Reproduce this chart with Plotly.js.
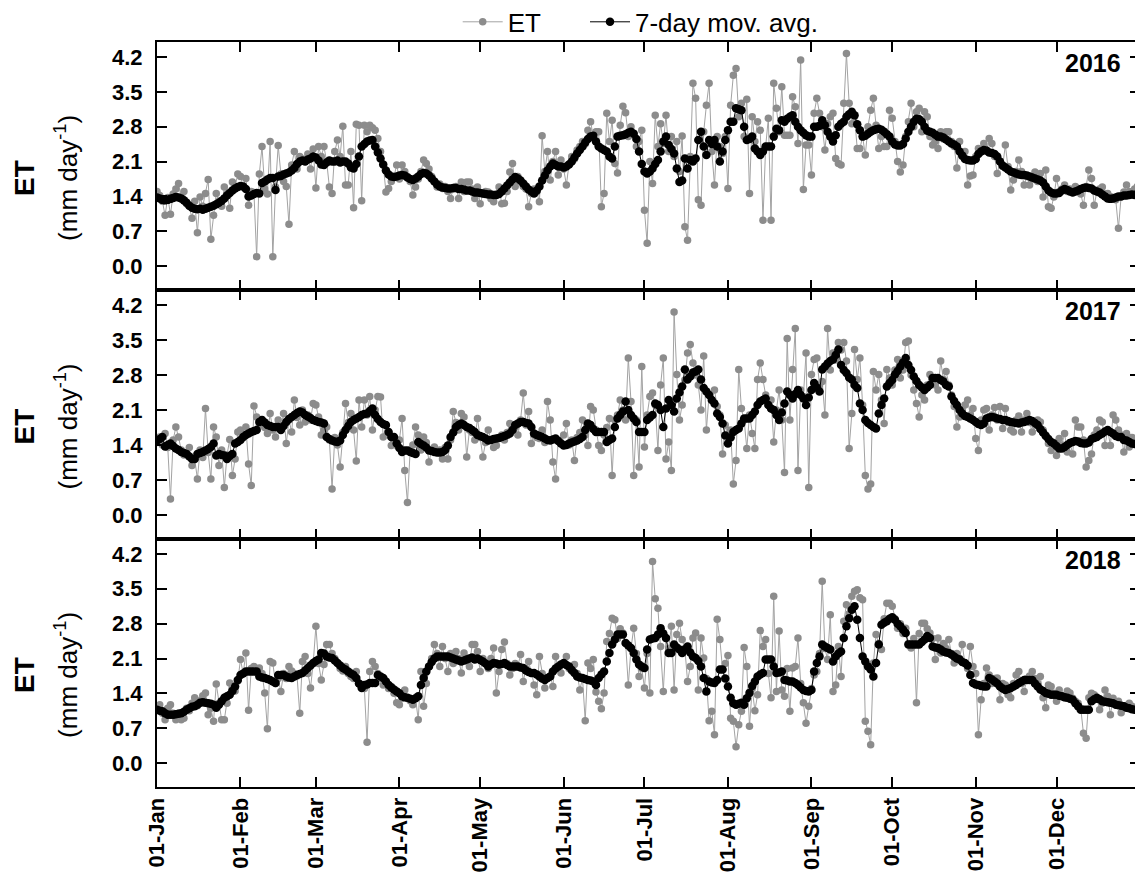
<!DOCTYPE html>
<html>
<head>
<meta charset="utf-8">
<script src="https://cdn.plot.ly/plotly-3.0.1.min.js"></script>
<style>
html,body{margin:0;padding:0;overflow:hidden;background:#fff;}
#chart{width:1150px;height:876px;}
</style>
</head>
<body>
<div id="chart"></div>
<script>
// ---------- DATA (daily values, 365 days) ----------
var years = ['2016', '2017', '2018'];
var monthTickStart = '2017-01-01';

var et2016 = [
1.5,1.42,1.3,1.02,1.38,1.04,1.45,1.55,1.66,1.35,1.5,1.25,1.2,0.96,1.3,0.67,1.39,1.2,1.46,1.74,0.54,1.02,1.46,1.3,1.2,1.59,1.45,1.16,1.69,1.6,1.85,
1.8,1.6,1.76,1.22,1.5,1.48,0.19,1.85,2.4,1.55,1.45,2.5,0.19,1.59,2.42,1.85,1.7,1.6,0.84,2.03,2.3,1.95,2.2,2.15,2.1,2.25,1.95,2.35,
1.57,2.4,2.2,2.4,2.1,1.59,1.46,2.3,2.53,2.2,2.81,1.63,1.63,2.3,1.17,2.85,2.83,1.31,2.83,2.7,2.83,2.78,2.73,2.56,2.3,2.04,1.49,1.56,1.7,1.8,2.03,
1.75,2.03,1.9,1.8,1.7,1.43,1.59,1.75,1.9,2.13,2.06,1.95,1.8,1.7,1.59,1.65,1.56,1.6,1.5,1.36,1.55,1.6,1.36,1.69,1.5,1.69,1.69,1.55,1.36,1.59,
1.25,1.45,1.5,1.49,1.35,1.29,1.45,1.59,1.25,1.26,1.5,1.89,2.06,1.6,1.8,1.7,1.6,1.55,1.19,1.46,1.55,1.49,1.29,2.62,1.9,2.3,1.73,2.1,2.3,1.83,2.13,
1.95,1.63,2.05,2.2,2.15,2.33,2.4,2.5,2.45,2.73,2.9,2.6,2.7,2.7,1.19,1.46,3.07,2.5,2.93,2.06,1.87,2.83,3.21,3.08,2.6,2.8,2.65,2.4,2.5,2.73,
1.12,0.46,2.1,1.66,3.03,2.4,2.86,2.46,3.03,2.3,2.6,2.2,2.5,1.9,2.61,0.79,0.52,2.2,3.67,3.37,1.33,1.22,2.7,3.23,3.67,2.3,1.63,2.6,2.4,2.26,2.6,
1.56,3.23,3.83,3.97,3.0,3.27,2.6,3.35,1.46,3.0,2.5,2.9,2.73,0.92,2.4,2.97,0.92,3.67,3.17,2.7,3.6,2.63,2.63,2.63,3.4,3.2,2.46,4.14,1.54,2.43,2.43,
1.83,3.07,3.37,3.07,2.8,2.33,2.86,3.0,3.07,2.16,2.06,2.03,3.27,4.27,3.27,2.86,3.0,2.36,2.36,2.6,2.23,2.8,3.13,3.37,2.83,2.36,2.6,2.4,2.4,3.13,
2.97,2.5,2.1,1.89,2.03,2.6,2.9,3.27,2.8,3.1,3.17,2.7,3.1,3.0,2.6,2.43,2.5,2.36,2.7,2.55,2.7,2.7,2.5,2.4,1.97,2.5,2.2,2.3,1.63,1.81,1.83,
2.2,2.36,2.3,2.46,2.3,2.56,2.46,2.2,1.86,2.1,2.0,2.43,2.0,1.53,1.73,1.9,2.13,1.9,1.63,1.8,1.63,1.75,1.89,1.7,1.86,1.39,1.93,1.19,1.16,1.39,
1.76,1.5,1.55,1.63,1.5,1.55,1.49,1.6,1.5,1.45,1.22,1.6,1.93,1.76,1.22,1.5,1.55,1.59,1.45,1.46,1.4,1.35,1.33,0.76,1.4,1.49,1.63,1.5,1.46,1.55,1.6];

var avg2016 = [
1.38,1.36,1.33,1.32,1.33,1.35,1.37,1.39,1.38,1.36,1.32,1.27,1.21,1.17,1.15,1.14,1.15,1.13,1.15,1.17,1.19,1.21,1.24,1.27,1.31,1.36,1.42,1.47,1.52,1.56,1.59,
1.61,1.6,1.55,1.4,1.42,1.45,1.47,1.46,1.67,1.7,1.74,1.77,1.77,1.53,1.8,1.81,1.84,1.86,1.88,1.92,1.97,2.05,2.1,2.12,2.1,2.14,2.16,2.2,
2.18,2.12,2.04,2.03,2.08,2.12,2.1,2.1,2.12,2.08,2.1,2.1,2.06,1.98,1.96,2.05,2.2,2.4,2.45,2.5,2.52,2.53,2.4,2.28,2.16,2.04,1.92,1.84,1.8,1.79,1.8,
1.82,1.83,1.82,1.78,1.75,1.73,1.76,1.8,1.85,1.87,1.86,1.82,1.76,1.7,1.64,1.6,1.58,1.57,1.56,1.56,1.57,1.57,1.55,1.55,1.54,1.52,1.52,1.5,1.48,1.48,
1.47,1.46,1.45,1.44,1.44,1.43,1.43,1.45,1.5,1.56,1.62,1.68,1.74,1.79,1.76,1.72,1.66,1.6,1.54,1.5,1.46,1.52,1.6,1.72,1.82,1.92,2.0,2.06,2.03,2.0,2.0,
1.98,2.0,2.04,2.1,2.18,2.26,2.33,2.4,2.48,2.55,2.6,2.62,2.5,2.4,2.36,2.33,2.3,2.2,2.16,2.4,2.6,2.62,2.63,2.65,2.68,2.7,2.66,2.55,2.3,2.05,
1.9,1.86,1.9,1.96,2.05,2.13,2.3,2.5,2.6,2.43,2.35,2.26,1.96,1.69,1.72,2.16,1.96,2.13,2.1,2.16,2.53,2.7,2.4,2.23,2.53,2.45,2.53,2.4,2.1,2.3,2.53,
2.73,2.9,2.9,3.17,3.15,3.13,2.8,2.53,2.55,2.6,2.36,2.3,2.23,2.3,2.4,2.4,2.4,2.6,2.76,2.73,2.93,2.9,2.96,3.0,3.03,2.9,2.8,2.73,2.68,2.63,2.6,
2.6,2.8,2.8,2.82,2.93,2.83,2.7,2.6,2.5,2.63,2.8,2.86,2.9,3.0,3.05,3.1,3.03,2.85,2.73,2.6,2.62,2.66,2.7,2.73,2.75,2.76,2.74,2.7,2.65,2.6,
2.5,2.44,2.42,2.42,2.45,2.56,2.7,2.8,2.9,2.96,2.95,2.9,2.8,2.72,2.7,2.68,2.64,2.6,2.6,2.58,2.54,2.5,2.46,2.44,2.4,2.3,2.22,2.15,2.13,2.12,2.12,
2.15,2.25,2.3,2.33,2.32,2.28,2.27,2.25,2.2,2.1,2.02,1.98,1.94,1.9,1.88,1.86,1.84,1.83,1.83,1.82,1.8,1.78,1.76,1.74,1.72,1.68,1.6,1.52,1.48,1.46,
1.46,1.47,1.52,1.55,1.53,1.5,1.48,1.5,1.52,1.55,1.57,1.58,1.57,1.56,1.52,1.5,1.48,1.44,1.4,1.36,1.35,1.36,1.38,1.4,1.4,1.42,1.42,1.43,1.44,1.43,1.45];

var et2017 = [
1.45,1.56,1.4,1.63,1.35,0.32,1.5,1.76,1.56,1.3,1.2,1.22,1.35,0.99,1.12,0.72,1.3,1.15,2.13,1.25,0.72,1.76,1.56,0.99,1.3,0.55,1.2,1.51,0.79,1.12,1.66,
1.7,1.55,1.76,1.02,0.59,2.18,1.96,1.8,1.9,1.75,1.63,2.03,1.7,1.56,1.9,1.75,2.03,1.43,1.9,1.66,2.3,1.95,1.8,2.1,1.86,2.0,1.9,2.23,
2.2,1.96,1.6,1.7,1.76,1.5,0.52,1.55,1.4,0.96,1.65,2.23,1.85,2.03,1.7,1.08,2.3,1.76,2.3,2.0,2.37,1.7,2.1,2.37,2.36,1.56,1.8,1.65,1.39,1.5,1.39,
1.5,1.93,0.89,0.25,1.3,1.4,1.76,1.6,1.3,1.56,1.45,1.06,1.3,1.36,1.25,1.3,1.12,1.35,1.12,1.5,2.07,1.85,1.7,2.03,1.96,1.16,1.7,1.65,1.5,1.93,
1.55,1.16,1.45,1.7,1.5,1.35,1.39,1.55,1.6,1.5,1.65,1.83,1.7,1.75,1.6,1.9,2.44,1.8,2.07,1.43,1.6,1.55,1.53,1.7,1.45,2.27,1.9,1.06,0.72,1.5,1.45,
1.6,1.83,1.4,1.5,1.09,1.55,1.65,1.9,1.6,1.39,2.17,2.1,1.7,1.39,1.29,1.6,1.75,1.93,0.79,1.9,2.0,2.3,2.1,1.9,3.14,2.27,0.79,1.9,0.96,2.97,
1.36,2.0,2.37,2.44,2.2,1.29,2.6,3.14,1.12,1.46,0.89,4.06,2.81,1.9,2.2,2.7,3.24,3.41,3.04,2.8,2.6,2.1,3.18,1.7,2.4,2.3,2.5,2.17,2.0,1.22,1.8,
1.6,1.7,0.62,1.09,2.91,2.13,1.9,1.33,2.0,1.63,1.33,2.71,3.04,2.71,2.4,2.2,2.3,1.46,2.1,2.5,1.9,0.85,3.53,1.9,2.91,3.73,0.89,2.5,2.37,3.24,0.55,
2.81,3.11,3.14,2.6,2.67,2.0,3.73,2.9,3.24,3.1,3.45,3.3,3.45,3.08,1.33,2.03,3.31,2.71,3.14,2.2,0.79,0.52,0.62,2.87,2.5,2.81,2.3,1.83,2.91,2.74,
2.6,2.9,3.11,2.74,2.9,3.45,3.48,2.8,2.5,2.23,1.96,2.4,2.3,2.6,2.81,2.7,2.6,2.5,3.08,2.71,2.87,2.6,2.4,2.17,1.76,1.96,2.1,2.2,2.3,2.0,2.13,
1.53,1.29,1.9,2.1,2.13,1.7,2.0,2.15,1.9,2.17,1.73,2.13,1.85,1.7,1.66,1.9,1.98,1.66,1.9,2.03,1.85,1.66,1.8,1.9,1.86,1.7,1.6,1.43,1.29,1.45,
1.19,1.53,1.4,1.63,1.26,1.45,1.22,1.9,1.76,1.76,1.5,0.96,1.09,1.22,1.6,1.7,1.9,1.86,1.39,1.7,1.39,2.0,1.9,1.7,1.6,1.26,1.63,1.36,1.55,1.53,1.4];

var avg2017 = [
1.49,1.52,1.56,1.37,1.4,1.43,1.38,1.33,1.3,1.26,1.24,1.22,1.17,1.12,1.12,1.22,1.24,1.26,1.29,1.32,1.36,1.43,1.19,1.22,1.2,1.19,1.12,1.18,1.22,1.43,1.46,
1.5,1.56,1.6,1.63,1.66,1.68,1.7,1.86,1.9,1.85,1.8,1.78,1.76,1.76,1.76,1.7,1.78,1.86,1.92,1.96,2.0,2.04,2.07,2.05,2.0,1.97,1.94,1.9,
1.88,1.86,1.85,1.83,1.56,1.52,1.49,1.47,1.46,1.49,1.6,1.7,1.78,1.86,1.9,1.93,1.96,2.0,2.02,2.03,2.08,2.13,2.0,1.92,1.86,1.82,1.8,1.66,1.56,1.56,1.43,
1.34,1.26,1.29,1.29,1.26,1.24,1.22,1.46,1.42,1.39,1.35,1.29,1.28,1.26,1.25,1.25,1.26,1.3,1.39,1.56,1.65,1.76,1.8,1.83,1.8,1.76,1.74,1.7,1.66,1.6,
1.58,1.56,1.53,1.49,1.5,1.52,1.53,1.54,1.56,1.58,1.6,1.63,1.7,1.8,1.83,1.86,1.86,1.84,1.83,1.76,1.63,1.6,1.58,1.56,1.53,1.5,1.49,1.51,1.53,1.48,1.43,
1.39,1.4,1.43,1.45,1.47,1.49,1.52,1.56,1.7,1.83,1.8,1.72,1.66,1.66,1.66,1.66,1.46,1.5,1.53,1.76,1.93,2.0,2.07,2.27,2.1,2.0,1.93,1.86,1.66,1.66,
1.66,1.9,1.95,2.0,2.23,2.2,2.1,1.76,2.13,2.3,2.2,2.07,2.33,2.45,2.57,2.91,2.71,2.77,2.85,2.87,2.91,2.71,2.54,2.47,2.4,2.3,2.23,2.03,1.96,1.83,1.59,
1.43,1.55,1.66,1.7,1.73,1.83,1.93,1.93,1.93,2.0,2.07,2.2,2.27,2.3,2.33,2.2,2.13,2.1,2.0,1.9,2.05,2.23,2.47,2.4,2.33,2.42,2.5,2.4,2.33,2.2,2.35,
2.5,2.64,2.55,2.47,2.91,2.97,3.03,3.08,3.11,3.2,3.31,3.0,2.9,2.84,2.75,2.71,2.6,2.54,2.23,2.1,1.9,1.84,1.8,1.76,1.73,2.03,2.2,2.33,2.57,2.64,
2.7,2.81,2.88,2.97,3.05,3.14,3.0,2.9,2.77,2.68,2.6,2.55,2.5,2.55,2.6,2.74,2.74,2.74,2.7,2.67,2.6,2.57,2.37,2.28,2.2,2.1,2.03,1.98,1.96,1.93,1.9,
1.86,1.82,1.8,1.83,1.93,1.95,1.96,1.95,1.93,1.92,1.9,1.9,1.88,1.86,1.85,1.84,1.83,1.85,1.86,1.88,1.9,1.88,1.84,1.8,1.72,1.65,1.58,1.52,1.46,1.43,
1.38,1.33,1.33,1.36,1.4,1.44,1.46,1.48,1.47,1.44,1.43,1.43,1.45,1.52,1.54,1.56,1.6,1.63,1.67,1.7,1.66,1.63,1.58,1.56,1.56,1.5,1.49,1.46,1.43,1.42,1.42];

var et2018 = [
1.15,1.17,1.0,0.87,1.1,1.17,1.0,0.87,1.0,0.87,0.9,1.1,1.05,1.2,1.31,1.15,1.25,1.35,1.41,0.97,1.1,0.84,1.59,1.2,0.87,0.87,1.2,1.61,1.5,1.45,1.65,
2.08,1.8,2.21,1.06,1.9,1.94,1.85,1.91,1.8,1.41,0.69,2.04,2.01,1.6,1.7,1.44,1.8,1.7,1.94,1.85,1.8,1.75,1.0,2.04,2.14,1.8,1.51,2.0,
2.75,2.0,1.67,1.98,2.38,2.38,2.2,2.1,2.01,1.9,1.85,1.94,1.8,1.74,1.7,1.84,1.6,1.55,1.5,0.42,1.84,2.04,1.94,1.8,1.7,1.57,1.6,1.5,1.54,1.4,1.21,
1.17,1.3,1.47,1.3,1.25,1.17,1.3,0.87,1.84,1.14,1.6,1.94,2.1,2.38,2.2,1.94,2.34,2.1,1.84,2.2,2.0,2.24,2.1,1.81,2.21,2.05,1.94,2.38,2.38,2.24,
1.84,2.1,2.0,1.9,2.1,2.31,1.41,1.84,2.28,2.43,2.0,1.77,1.9,2.0,1.95,2.18,1.64,1.9,2.04,1.8,1.57,1.37,2.14,1.8,1.51,1.7,1.75,1.54,2.14,1.9,1.81,
2.0,2.14,1.9,1.85,1.98,1.8,1.47,1.7,0.85,2.01,1.9,2.08,1.43,1.24,1.09,1.41,2.44,2.6,2.91,2.88,2.5,2.7,2.61,2.4,1.57,2.3,2.71,2.2,1.74,1.9,
1.51,2.2,1.41,4.05,3.3,3.11,2.34,1.44,2.5,2.3,2.75,1.47,2.58,2.81,2.48,2.3,1.64,1.94,2.51,2.61,1.47,2.51,2.11,1.7,0.85,1.04,0.57,2.89,2.48,1.88,2.0,
2.16,0.9,0.84,0.33,0.77,1.04,2.32,1.94,0.74,1.5,1.05,1.37,2.66,2.34,2.48,1.8,1.31,3.35,1.44,2.65,1.47,1.34,1.9,1.04,1.91,1.94,2.51,1.6,1.21,0.8,1.14,
1.5,1.77,1.84,2.2,3.65,2.3,2.08,2.98,1.44,1.57,2.34,1.74,2.85,3.18,3.0,3.35,3.45,3.48,3.32,3.28,0.84,0.64,0.37,2.01,2.58,2.4,2.28,2.9,3.21,3.21,
3.15,2.9,2.71,2.8,2.6,2.71,2.4,2.31,2.5,1.21,2.6,2.81,2.81,2.7,2.61,2.5,2.08,2.51,2.21,2.4,2.3,2.48,2.2,2.01,2.2,2.1,2.38,2.0,1.9,2.34,1.94,
1.8,0.57,1.27,1.6,1.91,1.77,1.6,1.7,1.71,1.27,1.6,1.57,1.37,1.31,1.6,1.77,1.84,1.6,1.44,1.7,1.75,1.84,1.7,1.6,1.74,1.31,1.11,1.57,1.54,1.4,
1.24,1.47,1.35,1.31,1.45,1.41,1.3,1.24,1.2,1.1,0.6,0.5,1.31,1.4,1.37,1.3,1.07,1.2,1.47,1.34,0.97,1.3,1.2,1.24,1.01,1.15,1.11,1.2,1.14,1.1,1.05];

var avg2018 = [
1.07,1.05,1.04,1.0,0.97,0.97,0.97,0.98,0.99,1.0,1.03,1.07,1.1,1.13,1.14,1.17,1.21,1.22,1.21,1.2,1.19,1.17,1.11,1.17,1.24,1.31,1.34,1.37,1.45,1.54,1.67,
1.77,1.8,1.84,1.84,1.84,1.84,1.84,1.74,1.72,1.71,1.69,1.67,1.64,1.61,1.77,1.77,1.77,1.74,1.72,1.71,1.74,1.77,1.79,1.81,1.86,1.91,1.96,2.01,
2.05,2.08,2.21,2.2,2.14,2.12,2.11,2.06,2.01,1.96,1.91,1.88,1.84,1.8,1.77,1.71,1.6,1.51,1.57,1.58,1.61,1.61,1.61,1.77,1.74,1.71,1.64,1.57,1.52,1.48,1.44,
1.4,1.34,1.32,1.31,1.29,1.27,1.3,1.34,1.57,1.71,1.84,1.94,2.03,2.1,2.14,2.14,2.14,2.14,2.14,2.12,2.1,2.08,2.06,2.04,2.06,2.08,2.1,2.12,2.08,2.1,
2.07,2.04,2.0,1.94,1.98,2.01,2.0,1.98,1.99,2.01,1.97,1.94,1.94,1.94,1.94,1.92,1.91,1.86,1.83,1.81,1.81,1.78,1.74,1.7,1.67,1.71,1.74,1.84,1.9,1.94,1.98,
2.01,1.97,1.94,1.87,1.81,1.74,1.72,1.71,1.69,1.67,1.66,1.64,1.57,1.71,1.78,1.84,2.04,2.21,2.38,2.48,2.58,2.58,2.58,2.41,2.36,2.31,2.21,2.08,1.98,1.94,
1.91,2.28,2.48,2.5,2.51,2.58,2.71,2.6,2.51,2.21,2.21,2.38,2.32,2.28,2.21,2.28,2.34,2.22,2.14,2.11,2.05,1.94,1.71,1.44,1.64,1.62,1.61,1.67,1.88,1.88,1.7,
1.54,1.31,1.2,1.17,1.19,1.21,1.17,1.3,1.41,1.55,1.64,1.74,1.78,1.81,2.08,2.08,2.08,1.94,1.81,1.82,1.84,1.67,1.66,1.64,1.64,1.61,1.57,1.52,1.47,1.45,1.44,
1.47,1.84,2.01,2.14,2.38,2.34,2.31,2.28,2.04,2.14,2.2,2.24,2.51,2.75,2.91,3.08,3.15,2.88,2.51,2.14,2.04,1.94,1.88,1.74,2.01,2.38,2.78,2.82,2.85,2.9,
2.93,2.88,2.8,2.75,2.68,2.61,2.38,2.38,2.38,2.38,2.38,2.43,2.48,2.55,2.51,2.34,2.32,2.31,2.28,2.24,2.22,2.21,2.18,2.14,2.1,2.08,2.03,2.01,1.96,1.77,1.61,
1.58,1.57,1.55,1.54,1.54,1.71,1.68,1.64,1.6,1.54,1.5,1.47,1.49,1.51,1.54,1.57,1.61,1.64,1.67,1.67,1.67,1.67,1.6,1.54,1.48,1.45,1.41,1.39,1.37,1.37,
1.37,1.35,1.34,1.32,1.31,1.29,1.27,1.2,1.14,1.07,1.07,1.07,1.07,1.24,1.28,1.31,1.28,1.24,1.23,1.22,1.21,1.2,1.17,1.16,1.15,1.14,1.11,1.1,1.08,1.07,1.07];

var etSeries = [et2016, et2017, et2018];
var avgSeries = [avg2016, avg2017, avg2018];
var yTickVals = [0, 0.7, 1.4, 2.1, 2.8, 3.5, 4.2];

// ---------- BUILD ----------
function dayDates(n) {
  var out = [];
  for (var i = 0; i < n; i++) {
    out.push(new Date(Date.UTC(2017, 0, 1 + i)).toISOString().slice(0, 10));
  }
  return out;
}

var FONT = 'Liberation Sans, Arial, Helvetica, sans-serif';
var traces = [];
for (var k = 0; k < 3; k++) {
  var ax = k === 0 ? '' : String(k + 1);
  traces.push({
    x: dayDates(etSeries[k].length), y: etSeries[k],
    xaxis: 'x' + ax, yaxis: 'y' + ax,
    type: 'scatter', mode: 'lines+markers', name: 'ET',
    legend: 'legend', showlegend: k === 0,
    line: {color: '#a3a3a3', width: 1},
    marker: {color: '#8c8c8c', size: 7.5}
  });
  traces.push({
    x: dayDates(avgSeries[k].length), y: avgSeries[k],
    xaxis: 'x' + ax, yaxis: 'y' + ax,
    type: 'scatter', mode: 'lines+markers', name: '7-day mov. avg.',
    legend: 'legend2', showlegend: k === 0,
    line: {color: '#000000', width: 1},
    marker: {color: '#000000', size: 8.5}
  });
}

var domains = [[0.6671, 1], [0.3329, 0.6671], [0, 0.3329]];

function xAxis(anchor, showLabels) {
  return {
    domain: [0, 1], anchor: anchor,
    range: ['2017-01-01', '2018-01-01'],
    type: 'date', tick0: monthTickStart, dtick: 'M1',
    tickformat: '%d-%b', tickangle: -90,
    showticklabels: showLabels,
    tickfont: {family: FONT, size: 22, color: '#000', weight: 'bold'},
    ticks: 'inside', ticklen: 10, tickwidth: 2, tickcolor: '#000',
    showline: true, linewidth: 2, linecolor: '#000', mirror: 'ticks',
    showgrid: false, zeroline: false
  };
}
function yAxis(k) {
  return {
    domain: domains[k], anchor: k === 0 ? 'x' : 'x' + (k + 1),
    range: [-0.48, 4.5],
    tickvals: yTickVals, tickformat: '.1f',
    tickfont: {family: FONT, size: 22, color: '#000', weight: 'bold'},
    ticks: 'inside', ticklen: 10, tickwidth: 2, tickcolor: '#000',
    ticklabelstandoff: 8,
    showline: true, linewidth: 2, linecolor: '#000', mirror: 'ticks',
    showgrid: false, zeroline: false
  };
}

var annotations = [];
var titleY = [0.8175, 0.4839, 0.1504];
for (var j = 0; j < 3; j++) {
  annotations.push({
    xref: 'paper', yref: j === 0 ? 'y' : 'y' + (j + 1),
    x: 0.9827, y: 4.08, xanchor: 'right', yanchor: 'middle',
    text: years[j], showarrow: false,
    font: {family: FONT, size: 25, color: '#000', weight: 'bold'}
  });
  annotations.push({
    xref: 'paper', yref: 'paper', x: -0.1343, y: titleY[j],
    xanchor: 'center', yanchor: 'middle', textangle: -90,
    text: 'ET', showarrow: false,
    font: {family: FONT, size: 28, color: '#000', weight: 'bold'}
  });
  annotations.push({
    xref: 'paper', yref: 'paper', x: -0.0916, y: titleY[j],
    xanchor: 'center', yanchor: 'middle', textangle: -90,
    text: '(mm day<sup>-1</sup>)', showarrow: false,
    font: {family: FONT, size: 26, color: '#000'}
  });
}

function legendBox(xc) {
  return {
    orientation: 'h', xref: 'container', yref: 'container',
    x: xc, xanchor: 'left', y: 0.975, yanchor: 'middle',
    font: {family: FONT, size: 26, color: '#000'},
    bgcolor: 'rgba(0,0,0,0)', itemwidth: 40
  };
}

var layout = {
  width: 1150, height: 876,
  margin: {l: 157, r: 10, t: 42, b: 89, autoexpand: false},
  paper_bgcolor: '#fff', plot_bgcolor: '#fff',
  font: {family: FONT, color: '#000'},
  showlegend: true,
  legend: legendBox(0.398),
  legend2: legendBox(0.5087),
  xaxis: xAxis('y', false),
  xaxis2: Object.assign(xAxis('y2', false), {matches: 'x'}),
  xaxis3: Object.assign(xAxis('y3', true), {matches: 'x'}),
  yaxis: yAxis(0), yaxis2: yAxis(1), yaxis3: yAxis(2),
  annotations: annotations
};

Plotly.newPlot('chart', traces, layout, {displayModeBar: false, staticPlot: true}).then(function (gd) {
  // drop empty placeholder text nodes (untitled axes) that draw nothing
  var texts = gd.querySelectorAll('svg text');
  for (var i = 0; i < texts.length; i++) {
    if (!texts[i].textContent.trim()) texts[i].parentNode.removeChild(texts[i]);
  }
});
</script>
</body>
</html>
